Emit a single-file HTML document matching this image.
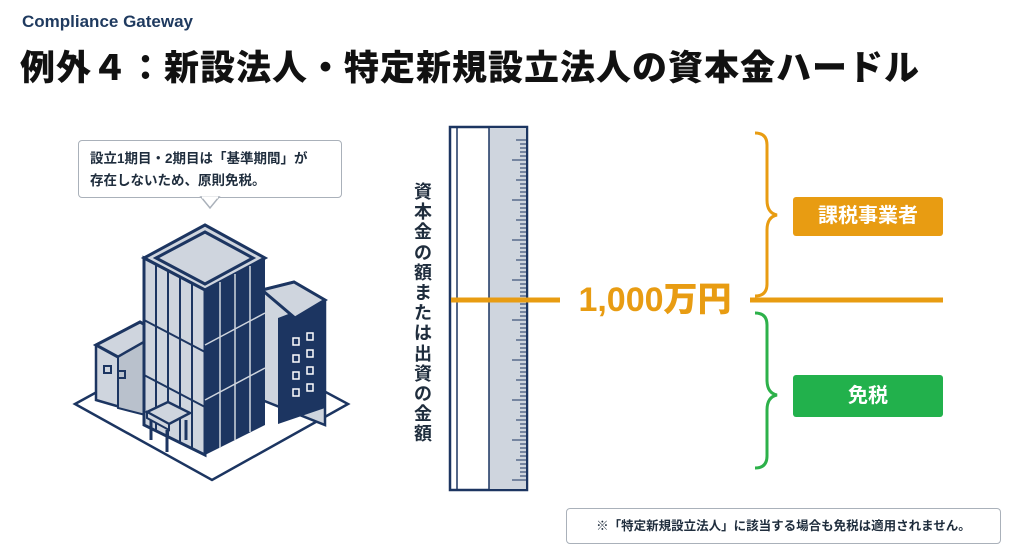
<!DOCTYPE html>
<html><head><meta charset="utf-8"><style>
body{margin:0;width:1024px;height:552px;background:#fff;font-family:"Liberation Sans","Noto Sans CJK JP",sans-serif;position:relative;overflow:hidden}
.abs{position:absolute}
</style></head><body>
<div class="abs" style="left:22px;top:12px;font-size:17px;font-weight:bold;color:#1f3a5f">Compliance Gateway</div>
<div class="abs" style="left:20px;top:40px;font-size:35px;font-weight:900;color:#111;letter-spacing:1px">例外４：新設法人・特定新規設立法人の資本金ハードル</div>
<div class="abs" style="left:78px;top:140px;width:262px;height:56px;border:1.5px solid #aab1ba;border-radius:4px;background:#fff"></div>
<div class="abs" style="left:90px;top:148px;font-size:13.5px;font-weight:bold;color:#1f2d3d;line-height:22px">設立1期目・2期目は「基準期間」が<br>存在しないため、原則免税。</div>
<svg class="abs" style="left:0;top:0" width="1024" height="552">
<polygon points="201,197 219,197 210,208" fill="#fff" stroke="#aab1ba" stroke-width="1.5"/>
<line x1="202" y1="197.5" x2="218" y2="197.5" stroke="#fff" stroke-width="2"/>
<polygon points="75,404 210,330 348,404 212,480" fill="#fff" stroke="#1c3561" stroke-width="2.5"/>
<polygon points="262,290 294,282 325,300 325,425 262,400" fill="#cfd5de" stroke="#1c3561" stroke-width="2.5"/>
<polygon points="278,424 325,408 325,300 278,318" fill="#1c3561"/>
<polygon points="262,290 294,282 325,300 295,318" fill="#cfd5de" stroke="#1c3561" stroke-width="3"/>
<g fill="none" stroke="#fff" stroke-width="1.5">
<rect x="293" y="338" width="6" height="7"/><rect x="307" y="333" width="6" height="7"/>
<rect x="293" y="355" width="6" height="7"/><rect x="307" y="350" width="6" height="7"/>
<rect x="293" y="372" width="6" height="7"/><rect x="307" y="367" width="6" height="7"/>
<rect x="293" y="389" width="6" height="7"/><rect x="307" y="384" width="6" height="7"/>
</g>
<polygon points="96,345 140,322 165,335 165,420 96,400" fill="#cfd5de" stroke="#1c3561" stroke-width="2.5"/>
<polygon points="96,345 140,322 160,333 118,357" fill="#cfd5de" stroke="#1c3561" stroke-width="3"/>
<polygon points="118,357 160,333 165,336 165,420 118,408" fill="#b9c1cc" stroke="#1c3561" stroke-width="2"/>
<rect x="104" y="366" width="7" height="7" fill="none" stroke="#1c3561" stroke-width="2"/>
<rect x="118" y="371" width="7" height="7" fill="none" stroke="#1c3561" stroke-width="2"/>
<polygon points="144,258 205,225 265,258 205,290" fill="#cfd5de" stroke="#1c3561" stroke-width="3"/>
<polygon points="156,258 205,232 253,258 205,284" fill="#cfd5de" stroke="#1c3561" stroke-width="3"/>
<polygon points="144,258 205,290 205,455 144,425" fill="#cfd5de" stroke="#1c3561" stroke-width="3"/>
<polygon points="205,290 265,258 265,425 205,455" fill="#1c3561"/>
<g stroke="#1c3561" stroke-width="2">
<line x1="156" y1="264" x2="156" y2="430"/><line x1="168" y1="270" x2="168" y2="436"/><line x1="180" y1="276" x2="180" y2="442"/><line x1="192" y1="283" x2="192" y2="448"/>
<line x1="144" y1="320" x2="205" y2="352"/><line x1="144" y1="375" x2="205" y2="407"/>
</g>
<g stroke="#cfd5de" stroke-width="1.5">
<line x1="220" y1="282" x2="220" y2="448"/><line x1="235" y1="274" x2="235" y2="440"/><line x1="250" y1="266" x2="250" y2="432"/>
<line x1="205" y1="345" x2="265" y2="313"/><line x1="205" y1="400" x2="265" y2="368"/>
</g>
<polygon points="147,412 168,402 190,413 169,424" fill="#cfd5de" stroke="#1c3561" stroke-width="2.5"/>
<polygon points="147,412 169,424 169,430 147,418" fill="#cfd5de" stroke="#1c3561" stroke-width="2"/>
<line x1="151" y1="420" x2="151" y2="440" stroke="#1c3561" stroke-width="3"/>
<line x1="167" y1="430" x2="167" y2="452" stroke="#1c3561" stroke-width="3"/>
<line x1="186" y1="420" x2="186" y2="440" stroke="#1c3561" stroke-width="3"/>
<rect x="450" y="127" width="77" height="363" fill="#fff" stroke="#1c3561" stroke-width="2.5"/>
<line x1="457" y1="127" x2="457" y2="490" stroke="#1c3561" stroke-width="1.5"/>
<rect x="489" y="128" width="37" height="361" fill="#cfd5de"/>
<line x1="489" y1="127" x2="489" y2="490" stroke="#1c3561" stroke-width="1.5"/>
<g stroke="#1c3561" stroke-width="1">
<path d="M516 140H527M520 144H527M520 148H527M520 152H527M520 156H527M512 160H527M520 164H527M520 168H527M520 172H527M520 176H527M516 180H527M520 184H527M520 188H527M520 192H527M520 196H527M512 200H527M520 204H527M520 208H527M520 212H527M520 216H527M516 220H527M520 224H527M520 228H527M520 232H527M520 236H527M512 240H527M520 244H527M520 248H527M520 252H527M520 256H527M516 260H527M520 264H527M520 268H527M520 272H527M520 276H527M512 280H527M520 284H527M520 288H527M520 292H527M520 296H527M516 300H527M520 304H527M520 308H527M520 312H527M520 316H527M512 320H527M520 324H527M520 328H527M520 332H527M520 336H527M516 340H527M520 344H527M520 348H527M520 352H527M520 356H527M512 360H527M520 364H527M520 368H527M520 372H527M520 376H527M516 380H527M520 384H527M520 388H527M520 392H527M520 396H527M512 400H527M520 404H527M520 408H527M520 412H527M520 416H527M516 420H527M520 424H527M520 428H527M520 432H527M520 436H527M512 440H527M520 444H527M520 448H527M520 452H527M520 456H527M516 460H527M520 464H527M520 468H527M520 472H527M520 476H527M512 480H527"/>
</g>
<line x1="451" y1="300" x2="560" y2="300" stroke="#e89c12" stroke-width="5"/>
<line x1="750" y1="300" x2="943" y2="300" stroke="#e89c12" stroke-width="5"/>
<path d="M755 133 Q767 133 767 145 V200 Q767 213 777 215 Q767 217 767 230 V284 Q767 296 755 296" fill="none" stroke="#e89c12" stroke-width="3"/>
<path d="M755 313 Q767 313 767 325 V380 Q767 393 777 395 Q767 397 767 410 V456 Q767 468 755 468" fill="none" stroke="#2db14a" stroke-width="3"/>
</svg>
<div class="abs" style="left:411px;top:182px;width:24px;font-size:18px;font-weight:bold;color:#1f2d3d;line-height:20.2px;text-align:center">資<br>本<br>金<br>の<br>額<br>ま<br>た<br>は<br>出<br>資<br>の<br>金<br>額</div>
<div class="abs" style="left:565px;top:278px;width:180px;text-align:center;font-size:34px;font-weight:900;color:#e89c12;line-height:44px">1,000万円</div>
<div class="abs" style="left:793px;top:197px;width:150px;height:39px;background:#e89c12;border-radius:3px;color:#fff;font-size:20px;font-weight:bold;text-align:center;line-height:39px">課税事業者</div>
<div class="abs" style="left:793px;top:375px;width:150px;height:42px;background:#22b14c;border-radius:3px;color:#fff;font-size:20px;font-weight:bold;text-align:center;line-height:42px">免税</div>
<div class="abs" style="left:566px;top:508px;width:433px;height:34px;border:1.5px solid #aab1ba;border-radius:4px;font-size:12.5px;font-weight:bold;color:#1f2d3d;line-height:34px;text-align:center">※「特定新規設立法人」に該当する場合も免税は適用されません。</div>
</body></html>
